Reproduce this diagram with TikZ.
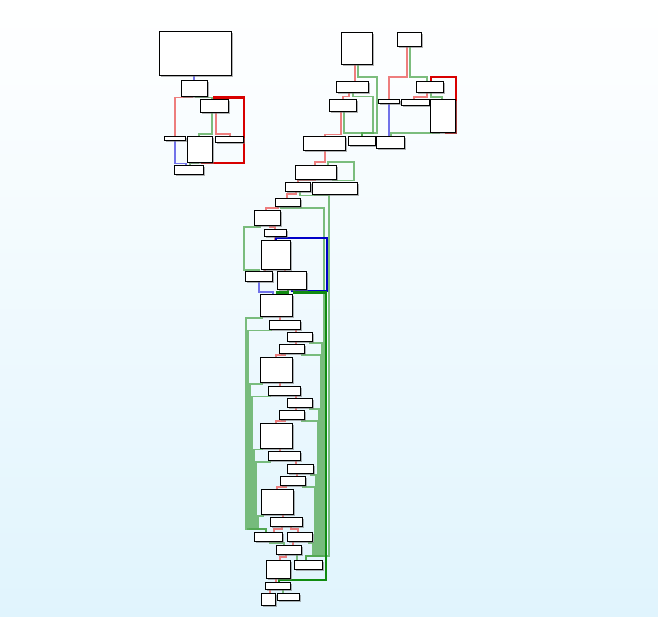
\documentclass[tikz,border=0pt]{standalone}
\usetikzlibrary{shadows}
\definecolor{bgbottom}{RGB}{224,244,253}
\definecolor{edgered}{RGB}{236,104,104}
\definecolor{edgegreen}{RGB}{82,168,82}
\definecolor{edgeblue}{RGB}{90,90,230}
\definecolor{hotred}{RGB}{216,0,0}
\definecolor{hotgreen}{RGB}{17,140,17}
\definecolor{hotblue}{RGB}{0,0,200}
\pgfdeclarelayer{canvas}
\pgfdeclarelayer{wires}
\pgfsetlayers{canvas,wires,main}
\tikzset{
  cfgbox/.style={draw=black, line width=0.9pt, fill=white, inner sep=0pt, outer sep=0pt,
    drop shadow={shadow xshift=1.6pt, shadow yshift=-1.6pt, fill=black!55, opacity=.55}},
  rd/.style={draw=edgered, line width=1.3pt, opacity=.85},
  gn/.style={draw=edgegreen, line width=1.1pt, opacity=.75},
  bl/.style={draw=edgeblue, line width=1.3pt, opacity=.85},
  rdk/.style={draw=hotred, line width=2.2pt},
  gnk/.style={draw=hotgreen, line width=2.2pt},
  bld/.style={draw=hotblue, line width=2.2pt}
}
% basic block from its corners (x1,y1)-(x2,y2), y growing downwards
\newcommand\cfgnode[5]{\node[cfgbox, minimum width={(#4-#2)*1pt}, minimum height={(#5-#3)*1pt}] (#1) at ({(#2+#4)/2},{(#3+#5)/2}) {};}
% straight vertical edge at column x from one block to the next
\newcommand\vlink[4]{\draw[#1] (#2,0 |- #3.south) -- (#2,0 |- #4.north);}
\begin{document}
\begin{tikzpicture}[x=1pt,y=-1pt]
\useasboundingbox (0,0) rectangle (658,617);
\begin{pgfonlayer}{canvas}
\shade[top color=white, bottom color=bgbottom] (0,0) rectangle (658,617);
\end{pgfonlayer}

% ---------- blocks ----------
% left function
\cfgnode{tla}{159}{31}{231}{75}
\cfgnode{tlb}{181}{80}{207}{96}
\cfgnode{tlc}{200}{99}{228}{112}
\cfgnode{tld}{164}{136}{185}{140}
\cfgnode{tle}{187}{136}{212}{162}
\cfgnode{tlf}{215}{136}{243}{142}
\cfgnode{tlg}{174}{165}{203}{174}
% right function, head
\cfgnode{A}{341}{32}{372}{64}
\cfgnode{B}{397}{32}{421}{46}
\cfgnode{C}{336}{81}{368}{92}
\cfgnode{D}{329}{99}{356}{111}
\cfgnode{E}{378}{99}{399}{103}
\cfgnode{F}{401}{99}{429}{105}
\cfgnode{G}{416}{81}{443}{92}
\cfgnode{H}{430}{99}{455}{132}
\cfgnode{I}{303}{136}{345}{150}
\cfgnode{J}{348}{136}{375}{145}
\cfgnode{K}{376}{136}{404}{148}
% body
\cfgnode{L}{295}{165}{336}{179}
\cfgnode{M}{285}{182}{310}{191}
\cfgnode{N}{312}{182}{357}{194}
\cfgnode{O}{275}{198}{300}{206}
\cfgnode{P}{254}{210}{280}{225}
\cfgnode{Q}{264}{229}{286}{236}
\cfgnode{R}{261}{240}{290}{269}
\cfgnode{S}{245}{271}{272}{281}
\cfgnode{T}{277}{271}{306}{289}
\cfgnode{U}{260}{294}{292}{316}
\cfgnode{V}{269}{320}{300}{329}
\cfgnode{W}{287}{332}{312}{341}
\cfgnode{X}{279}{344}{304}{353}
\cfgnode{Y}{260}{357}{292}{382}
\cfgnode{Z}{268}{386}{300}{395}
\cfgnode{AA}{287}{398}{312}{407}
\cfgnode{AB}{279}{410}{304}{419}
\cfgnode{AC}{260}{423}{292}{448}
\cfgnode{AD}{268}{451}{300}{460}
\cfgnode{AE}{287}{464}{313}{473}
\cfgnode{AF}{280}{476}{305}{485}
\cfgnode{AG}{261}{489}{293}{514}
\cfgnode{AH}{270}{517}{302}{526}
\cfgnode{AI}{254}{532}{282}{541}
\cfgnode{AJ}{287}{532}{312}{541}
\cfgnode{AK}{276}{545}{301}{554}
\cfgnode{AL}{266}{560}{290}{578}
\cfgnode{AM}{294}{560}{322}{569}
\cfgnode{AN}{265}{582}{290}{589}
\cfgnode{AO}{261}{593}{275}{605}
\cfgnode{AP}{277}{593}{299}{600}

\begin{pgfonlayer}{wires}
% ---------- edges: left function ----------
\vlink{bl}{194}{tla}{tlb}
\draw[rd] (192,0 |- tlb.south) -- (192,97.5) -- (175,97.5) -- (175,0 |- tld.north);
\draw[gn] (196,0 |- tlb.south) -- (196,97.5) -- (212,97.5) -- (212,0 |- tlc.north);
\draw[gn] (212,0 |- tlc.south) -- (212,134) -- (199,134) -- (199,0 |- tle.north);
\draw[rd] (216,0 |- tlc.south) -- (216,134) -- (230,134) -- (230,0 |- tlf.north);
\draw[rdk] (202,0 |- tle.south) -- (202,163) -- (244,163) -- (244,97.5) -- (214,97.5) -- (214,0 |- tlc.north);
\draw[gn] (198,0 |- tle.south) -- (198,163.5) -- (190,163.5) -- (190,0 |- tlg.north);
\draw[bl] (175,0 |- tld.south) -- (175,163.5) -- (186,163.5) -- (186,0 |- tlg.north);

% ---------- edges: right function, head ----------
\vlink{rd}{355}{A}{C}
\draw[gn] (358,0 |- A.south) -- (358,77) -- (377,77) -- (377,133) -- (362,133) -- (362,0 |- J.north);
\draw[rd] (349,0 |- C.south) -- (349,96.5) -- (343,96.5) -- (343,0 |- D.north);
\draw[gn] (353,0 |- C.south) -- (353,96.5) -- (373,96.5) -- (373,133) -- (362,133) -- (362,0 |- J.north);
\draw[rd] (341,0 |- D.south) -- (341,134.5) -- (325,134.5) -- (325,0 |- I.north);
\draw[gn] (344,0 |- D.south) -- (344,133) -- (362,133) -- (362,0 |- J.north);
\draw[rd] (407,0 |- B.south) -- (407,77) -- (389,77) -- (389,0 |- E.north);
\draw[gn] (410,0 |- B.south) -- (410,77) -- (427,77) -- (427,0 |- G.north);
\draw[rdk] (446,0 |- H.south) -- (446,133) -- (456,133) -- (456,77) -- (431,77) -- (431,0 |- G.north);
\draw[rd] (427,0 |- G.south) -- (427,97) -- (414,97) -- (414,0 |- F.north);
\draw[gn] (431,0 |- G.south) -- (431,97) -- (442,97) -- (442,0 |- H.north);
\vlink{bl}{389}{E}{K}
\draw[gn] (439,0 |- H.south) -- (439,133) -- (391,133) -- (391,0 |- K.north);

% ---------- edges: body ----------
\draw[rd] (325,0 |- I.south) -- (325,162) -- (315,162) -- (315,0 |- L.north);
\draw[gn] (333,0 |- L.south) -- (333,180.5) -- (354,180.5) -- (354,162) -- (328,162) -- (328,0 |- L.north);
\draw[rd] (315,0 |- L.south) -- (315,180.5) -- (298,180.5) -- (298,0 |- M.north);
\draw[rd] (296,0 |- M.south) -- (296,194) -- (287,194) -- (287,0 |- O.north);
\draw[gn] (300,0 |- M.south) -- (300,195.5) -- (329,195.5) -- (329,556) -- (306,556) -- (306,0 |- AM.north);
\draw[rd] (278,0 |- O.south) -- (278,208) -- (266,208) -- (266,0 |- P.north);
\draw[gn] (281,0 |- O.south) -- (281,208) -- (324,208) -- (324,556) -- (306,556) -- (306,0 |- AM.north);
\draw[rd] (270,0 |- P.south) -- (270,227) -- (275,227) -- (275,0 |- Q.north);
\draw[gn] (260,0 |- P.south) -- (260,227) -- (244,227) -- (244,270) -- (259,270) -- (259,0 |- S.north);
\vlink{rd}{275}{Q}{R}
\draw[bld] (292,0 |- T.south) -- (292,291) -- (327,291) -- (327,238) -- (276,238) -- (276,0 |- R.north);
\vlink{rd}{265}{R}{S}
\vlink{rd}{285}{R}{T}
\draw[bl] (259,0 |- S.south) -- (259,292) -- (273,292) -- (273,0 |- U.north);
\draw[gnk] (288,0 |- T.south) -- (288,292.5) -- (277,292.5) -- (277,0 |- U.north);
\draw[gnk] (294,0 |- T.south) -- (294,292.5) -- (326,292.5) -- (326,580) -- (279,580) -- (279,0 |- AN.north);

% fall-through chain
\vlink{rd}{280}{U}{V}
\vlink{rd}{296}{V}{W}
\vlink{rd}{296}{W}{X}
\draw[rd] (285,0 |- X.south) -- (285,355) -- (276,355) -- (276,0 |- Y.north);
\vlink{rd}{280}{Y}{Z}
\vlink{rd}{296}{Z}{AA}
\vlink{rd}{296}{AA}{AB}
\draw[rd] (285,0 |- AB.south) -- (285,421) -- (276,421) -- (276,0 |- AC.north);
\vlink{rd}{280}{AC}{AD}
\vlink{rd}{296}{AD}{AE}
\vlink{rd}{297}{AE}{AF}
\draw[rd] (286,0 |- AF.south) -- (286,487) -- (277,487) -- (277,0 |- AG.north);
\vlink{rd}{283}{AG}{AH}
\draw[rd] (282,0 |- AH.south) -- (282,529) -- (274,529) -- (274,0 |- AI.north);
\draw[rd] (291,0 |- AH.south) -- (291,529) -- (298,529) -- (298,0 |- AJ.north);
\vlink{rd}{293}{AJ}{AK}
\draw[gn] (270,0 |- AI.south) -- (270,543) -- (284,543) -- (284,0 |- AK.north);
\draw[rd] (286,0 |- AK.south) -- (286,557) -- (280,557) -- (280,0 |- AL.north);
\vlink{gn}{297}{AK}{AM}
\vlink{rd}{276}{AL}{AN}
\vlink{rd}{270}{AN}{AO}
\vlink{gn}{283}{AN}{AP}

% exits gathered on the left
\foreach \src/\sx/\hy/\vx in {U/262/318/246, V/271/330.5/248, Y/262/384/250, Z/270/396.5/252,
    AC/262/449.5/254, AD/270/462/256, AG/263/516/258}
  \draw[gn] (\sx,0 |- \src.south) -- (\sx,\hy) -- (\vx,\hy) -- (\vx,529) -- (266,529) -- (266,0 |- AI.north);

% exits gathered on the right
\foreach \src/\sx/\hy/\vx in {W/310/343/322, X/302/355/320.5, AA/310/409/319, AB/302/421/317.5,
    AE/311/475/316, AF/303/487/314.5, AJ/309/543/313}
  \draw[gn] (\sx,0 |- \src.south) -- (\sx,\hy) -- (\vx,\hy) -- (\vx,556) -- (306,556) -- (306,0 |- AM.north);
\end{pgfonlayer}
\end{tikzpicture}
\end{document}
